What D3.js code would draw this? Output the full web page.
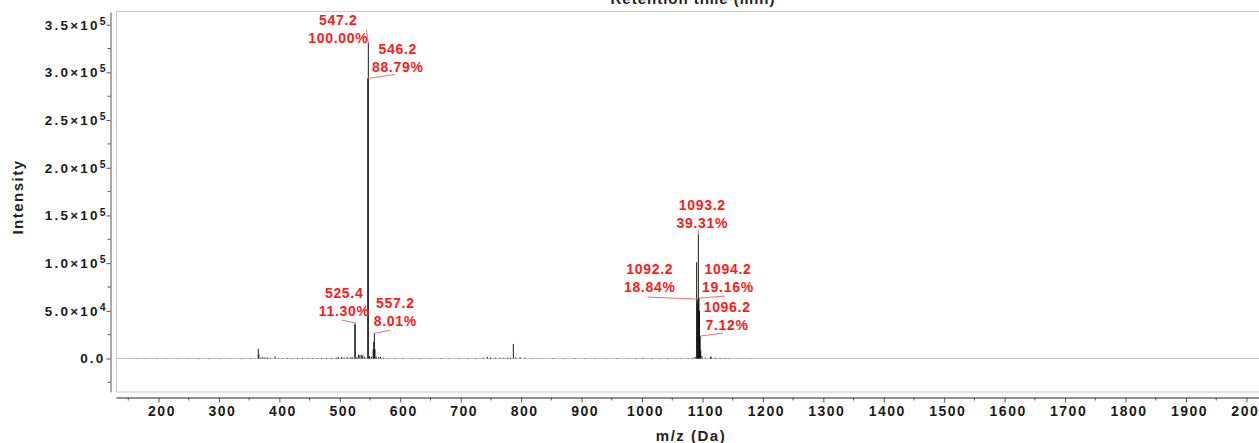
<!DOCTYPE html>
<html>
<head>
<meta charset="utf-8">
<script src="https://cdn.jsdelivr.net/npm/d3@7"></script>
<style>
    body { margin: 0; background: #fff; }
    svg { display: block; font-family: "Liberation Sans", Arial, sans-serif; }
</style>
</head>
<body>
<div id="spectrum"></div>
<script>
// stick spectrum, m/z (Da) and intensity
const peakMz = [163.1, 178.2, 197.4, 214.0, 231.3, 248.1, 266.2, 283.0, 301.2, 318.1,
    337.2, 352.2, 365.1, 366.1, 369.2, 372.2, 376.1, 380.3, 385.2, 392.8,
    398.1, 405.2, 413.3, 421.1, 430.2, 438.3, 447.1, 455.2, 463.3, 470.1,
    478.2, 486.3, 494.2, 497.3, 503.2, 507.1, 512.3, 517.2, 520.4, 524.9,
    525.4, 528.3, 531.2, 533.3, 536.2, 538.2, 541.3, 546.2, 547.2, 549.2,
    552.3, 555.2, 556.2, 557.2, 558.2, 560.3, 564.2, 567.3, 572.1, 580.2,
    591.3, 604.2, 618.2, 633.1, 650.3, 667.2, 680.3, 697.4, 711.2, 724.3,
    737.1, 744.2, 749.3, 757.2, 765.1, 771.3, 777.2, 782.3, 787.1, 791.2,
    798.3, 806.2, 818.3, 833.1, 852.2, 871.3, 889.2, 905.1, 922.3, 941.2,
    958.3, 975.1, 989.2, 1001.6, 1017.3, 1030.2, 1042.1, 1055.3, 1064.2, 1076.1,
    1084.3, 1088.2, 1090.4, 1091.2, 1092.2, 1093.2, 1094.2, 1095.2, 1096.2, 1097.2,
    1099.2, 1104.3, 1113.6, 1114.3, 1121.2, 1129.2, 1137.3, 1144.1, 1158.2, 1180.3];
const peakIntensity = [400, 300, 500, 350, 400, 300, 450, 350, 400, 300,
    500, 450, 10200, 4200, 900, 1300, 1100, 1200, 700, 2200,
    600, 500, 700, 500, 600, 500, 700, 600, 500, 800,
    600, 700, 900, 1500, 1700, 1000, 1400, 1200, 1600, 35500,
    37370, 1500, 4200, 3500, 4000, 3200, 1800, 293600, 330700, 2500,
    2000, 9500, 17500, 26490, 9800, 2000, 1500, 1800, 900, 600,
    500, 600, 400, 500, 400, 500, 400, 600, 500, 600,
    900, 1600, 1200, 900, 1000, 800, 1100, 900, 15300, 1200,
    1400, 800, 600, 400, 500, 400, 500, 400, 500, 400,
    500, 400, 500, 900, 500, 400, 600, 400, 500, 600,
    800, 1500, 101000, 58000, 62300, 130000, 63360, 50000, 23550, 9000,
    2500, 900, 2200, 1500, 800, 700, 600, 500, 300, 300];

// annotated peaks
const labelMz = [547.2, 546.2, 525.4, 557.2, 1093.2, 1092.2, 1094.2, 1096.2];
const labelPercent = [100.00, 88.79, 11.30, 8.01, 39.31, 18.84, 19.16, 7.12];

const xTickLabels = [200, 300, 400, 500, 600, 700, 800, 900, 1000, 1100,
    1200, 1300, 1400, 1500, 1600, 1700, 1800, 1900, 2000];
const xMinorTicks = [150, 250, 350, 450, 550, 650, 750, 850, 950, 1050,
    1150, 1250, 1350, 1450, 1550, 1650, 1750, 1850, 1950];
const yTickLabels = [0, 50000, 100000, 150000, 200000, 250000, 300000, 350000];
const yMinorTicks = [-25000, 25000, 75000, 125000, 175000, 225000, 275000, 325000];

// where each label block sits (px, from the top of its peak) and where its leader starts
const labelOffsets = [
    {dx: -30, dy: -23, lx: -2, ly: -13},
    {dx: 30, dy: -30, lx: 27, ly: -4},
    {dx: -11, dy: -30, lx: -14, ly: -3},
    {dx: 21, dy: -30, lx: 16, ly: -3},
    {dx: 4, dy: -30, lx: 0, ly: -5},
    {dx: -48, dy: -30, lx: -50, ly: -2},
    {dx: 29, dy: -29, lx: 26, ly: -2},
    {dx: 27, dy: -29, lx: 23, ly: -3}
];

const width = 1259, height = 443;

let svg = d3.select("#spectrum")
    .append("svg")
    .attr("width", width)
    .attr("height", height);

let x = d3.scaleLinear()
    .domain([129.7, 2020.8])
    .range([116, 1259]);

let y = d3.scaleLinear()
    .domain([-35100, 363300])
    .range([392, 12]);

// plot frame
svg.append("rect")
    .attr("x", 116.5)
    .attr("y", 11.5)
    .attr("width", width)
    .attr("height", 380.5)
    .style("fill", "none")
    .style("stroke", "#c8c8c8");

// title, mostly cut off at the top
svg.append("text")
    .attr("x", 693)
    .attr("y", 4)
    .attr("text-anchor", "middle")
    .style("font-size", "15px")
    .style("font-weight", "bold")
    .style("letter-spacing", "1px")
    .style("fill", "#222")
    .text("Retention time (min)");

// zero line
svg.append("line")
    .attr("x1", 117)
    .attr("x2", width)
    .attr("y1", y(0))
    .attr("y2", y(0))
    .style("stroke", "#c4c4c4")
    .style("stroke-width", 1);

// sticks
svg.append("g")
    .selectAll("line")
    .data(peakMz)
    .enter()
    .append("line")
    .attr("x1", d => x(d))
    .attr("x2", d => x(d))
    .attr("y1", y(0))
    .attr("y2", (d, i) => y(peakIntensity[i]))
    .style("stroke", "#000")
    .style("stroke-width", 0.9);

// y axis
let yAxis = svg.append("g")
    .attr("transform", "translate(110.5,0)")
    .call(d3.axisLeft(y)
        .tickValues(yTickLabels)
        .tickSize(4)
        .tickSizeOuter(0)
        .tickPadding(1));

yAxis.select(".domain").style("stroke", "#555");
yAxis.selectAll(".tick line").style("stroke", "#555");
yAxis.selectAll(".tick text")
    .style("font-size", "13.5px")
    .style("font-weight", "bold")
    .style("letter-spacing", "2.2px")
    .style("fill", "#1a1a1a")
    .each(function (d) {
        let t = d3.select(this);
        if (d === 0) {
            t.text("0.0");
            return;
        }
        let exp = Math.floor(Math.log10(d));
        t.text(null);
        t.append("tspan").text((d / Math.pow(10, exp)).toFixed(1) + "\u00d710");
        t.append("tspan")
            .attr("dy", "-0.45em")
            .style("font-size", "10.5px")
            .style("letter-spacing", "0px")
            .text(exp);
    });

svg.append("g")
    .selectAll("line")
    .data(yMinorTicks)
    .enter()
    .append("line")
    .attr("x1", 107.5)
    .attr("x2", 110.5)
    .attr("y1", d => y(d))
    .attr("y2", d => y(d))
    .style("stroke", "#555");

svg.append("text")
    .attr("transform", "translate(23,197) rotate(-90)")
    .attr("text-anchor", "middle")
    .style("font-size", "15px")
    .style("font-weight", "bold")
    .style("letter-spacing", "1.5px")
    .style("fill", "#222")
    .text("Intensity");

// x axis
let xAxis = svg.append("g")
    .attr("transform", "translate(0,397.5)")
    .call(d3.axisBottom(x)
        .tickValues(xTickLabels)
        .tickFormat(d3.format("d"))
        .tickSize(5)
        .tickSizeOuter(0)
        .tickPadding(4));

xAxis.select(".domain").style("stroke", "#222");
xAxis.selectAll(".tick line").style("stroke", "#555");
xAxis.selectAll(".tick text")
    .attr("dx", "3")
    .style("font-size", "14px")
    .style("font-weight", "bold")
    .style("letter-spacing", "1.5px")
    .style("fill", "#1a1a1a");

svg.append("g")
    .selectAll("line")
    .data(xMinorTicks)
    .enter()
    .append("line")
    .attr("x1", d => x(d))
    .attr("x2", d => x(d))
    .attr("y1", 397.5)
    .attr("y2", 400.5)
    .style("stroke", "#555");

svg.append("text")
    .attr("x", 691)
    .attr("y", 441)
    .attr("text-anchor", "middle")
    .style("font-size", "15px")
    .style("font-weight", "bold")
    .style("letter-spacing", "1.5px")
    .style("fill", "#222")
    .text("m/z (Da)");

// peak annotations
let notes = svg.append("g");

labelMz.forEach(function (m, i) {
    let v = peakIntensity[peakMz.indexOf(m)];
    let px = x(m), py = y(v);
    let off = labelOffsets[i];

    notes.append("line")
        .attr("x1", px + off.lx)
        .attr("y1", py + off.ly)
        .attr("x2", px)
        .attr("y2", py)
        .style("stroke", "#f07070")
        .style("stroke-width", 1);

    let block = notes.append("text")
        .attr("text-anchor", "middle")
        .style("font-size", "14px")
        .style("font-weight", "bold")
        .style("letter-spacing", "0.7px")
        .style("fill", "#ff1a1a");

    block.append("tspan")
        .attr("x", px + off.dx)
        .attr("y", py + off.dy)
        .attr("dy", "0.36em")
        .text(m.toFixed(1));

    block.append("tspan")
        .attr("x", px + off.dx)
        .attr("y", py + off.dy + 18)
        .attr("dy", "0.36em")
        .text(labelPercent[i].toFixed(2) + "%");
});
</script>
</body>
</html>
